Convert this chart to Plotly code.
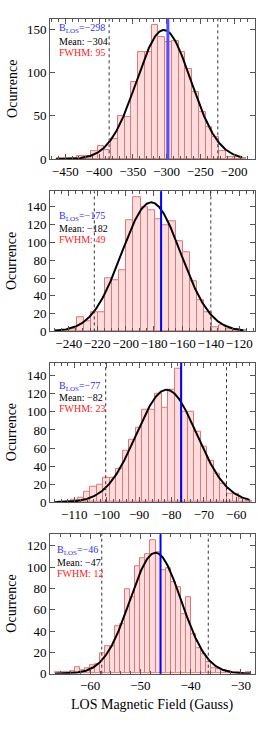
import numpy as np
import plotly.graph_objects as go

# ---------------- data ----------------
# histogram counts (bin start = left edge of first bin, bin width)
p1_bin_start, p1_bin_width = -462, 10
p1_counts = [1, 1, 1, 4, 4, 9, 15, 11, 23, 50, 49, 89, 124, 124, 155, 141, 135, 136,
             123, 104, 77, 54, 37, 25, 9, 3, 3, 1]

p2_bin_start, p2_bin_width = -249.5, 5
p2_counts = [1, 1, 2, 16, 11, 21, 22, 60, 58, 69, 125, 151, 140, 136, 126, 119, 124,
             101, 89, 56, 35, 21, 5, 7, 3, 2, 1]

p3_bin_start, p3_bin_width = -115, 2
p3_counts = [1, 1, 3, 5, 12, 17, 19, 27, 27, 37, 57, 69, 83, 102, 102, 120, 105, 125,
             148, 100, 100, 78, 61, 46, 31, 21, 9, 9, 4, 2]

p4_bin_start, p4_bin_width = -67, 1
p4_counts = [1, 1, 1, 2, 6, 3, 5, 8, 9, 19, 26, 26, 45, 46, 79, 72, 101, 108, 112, 125,
             114, 97, 99, 86, 81, 56, 72, 37, 24, 18, 11, 5, 4, 3, 2, 1, 1, 0, 1]

# Gaussian fit parameters (amplitude, centre, sigma) and curve extent
gauss_amp = [149, 145, 124.5, 113.5]
gauss_center = [-304, -182, -81.5, -47]
gauss_sigma = [40.3, 20.8, 9.3, 5.1]
curve_lo = [-464, -250, -116, -67]
curve_hi = [-188, -117, -56, -28]

# reference lines
b_los = [-298, -175, -77, -46]
dash_lo = [-385, -222, -100.3, -57.7]
dash_hi = [-224, -140, -63.0, -36.5]

# labels
b_text = ["−298", "−175", "−77", "−46"]
mean_text = ["−304", "−182", "−82", "−47"]
fwhm_text = ["95", "49", "23", "12"]

# axes
x_ranges = [[-472.6, -168.9], [-253.2, -108.9], [-117.5, -54.2], [-68.0, -27.2]]
y_ranges = [[0, 161.5], [0, 157.5], [0, 154.4], [0, 130.9]]
x_dtick = [50, 20, 10, 10]
x_minor = [10, 5, 2, 2]
y_dtick = [50, 20, 20, 20]

# ---------------- layout geometry ----------------
W, H = 277, 745
x_dom = [50 / W, 255 / W]
panel_px = [(19.3, 161), (193.3, 335), (366.7, 507.7), (540, 681)]
text_y_px = [(29, 41.7, 53.3), (219.3, 230.7, 241.7), (390.7, 402.3, 413.3), (556, 568.3, 580)]
text_x_px = [57, 57, 56.7, 55]

FONT = "Liberation Serif, Times New Roman, serif"
AXC = "#555555"

fig = go.Figure()
hist = [(p1_bin_start, p1_bin_width, p1_counts), (p2_bin_start, p2_bin_width, p2_counts),
        (p3_bin_start, p3_bin_width, p3_counts), (p4_bin_start, p4_bin_width, p4_counts)]

shapes = []
annotations = []
for i in range(4):
    xa = "x" if i == 0 else f"x{i+1}"
    ya = "y" if i == 0 else f"y{i+1}"
    start, width, counts = hist[i]
    centers = [start + width * (k + 0.5) for k in range(len(counts))]
    fig.add_trace(go.Bar(x=centers, y=counts, width=width, xaxis=xa, yaxis=ya,
                         marker=dict(color="#fcdcdc", line=dict(color="#e07878", width=1)),
                         showlegend=False))
    xs = np.linspace(curve_lo[i], curve_hi[i], 300)
    ys = gauss_amp[i] * np.exp(-(xs - gauss_center[i]) ** 2 / (2 * gauss_sigma[i] ** 2))
    fig.add_trace(go.Scatter(x=xs, y=ys, mode="lines", xaxis=xa, yaxis=ya,
                             line=dict(color="black", width=2), showlegend=False))

    for xv in (dash_lo[i], dash_hi[i]):
        shapes.append(dict(type="line", xref=xa, yref=f"{ya} domain", x0=xv, x1=xv, y0=0, y1=1,
                           line=dict(color="#333333", width=1, dash="3px,3px")))
    shapes.append(dict(type="line", xref=xa, yref=f"{ya} domain", x0=b_los[i], x1=b_los[i],
                       y0=0, y1=1,
                       line=dict(color="#5050ff" if i == 0 else "#0000ff", width=3 if i == 0 else 2)))

    top, bot = panel_px[i]
    dom = [1 - bot / H, 1 - top / H]
    axname = "xaxis" if i == 0 else f"xaxis{i+1}"
    ayname = "yaxis" if i == 0 else f"yaxis{i+1}"
    fig.layout[axname] = dict(domain=x_dom, anchor=ya, range=x_ranges[i], dtick=x_dtick[i],
                              tick0=0, ticks="inside", ticklen=5, tickcolor=AXC, tickangle=0,
                              showline=True, linecolor=AXC, linewidth=1, mirror="allticks",
                              showgrid=False, zeroline=False,
                              minor=dict(dtick=x_minor[i], ticks="inside", ticklen=3,
                                         tickcolor=AXC, showgrid=False),
                              tickfont=dict(family=FONT, size=13, color="black"))
    fig.layout[ayname] = dict(domain=dom, anchor=xa, range=y_ranges[i], dtick=y_dtick[i],
                              tick0=0, ticks="inside", ticklen=5, tickcolor=AXC,
                              showline=True, linecolor=AXC, linewidth=1, mirror="allticks",
                              showgrid=False, zeroline=False,
                              tickfont=dict(family=FONT, size=13, color="black"))

    annotations.append(dict(text="Ocurrence", xref="paper", yref="paper", x=11.7 / W,
                            y=(dom[0] + dom[1]) / 2, textangle=-90, showarrow=False,
                            xanchor="center", yanchor="middle",
                            font=dict(family=FONT, size=14, color="black")))
    tx = text_x_px[i] / W
    yb, ym, yf = text_y_px[i]
    annotations.append(dict(text=f"B<sub>LOS</sub>={b_text[i]}", xref="paper", yref="paper",
                            x=tx, y=1 - yb / H, xanchor="left", yanchor="middle", showarrow=False,
                            font=dict(family=FONT, size=10, color="#3030ff")))
    annotations.append(dict(text=f"Mean: {mean_text[i]}", xref="paper", yref="paper",
                            x=tx, y=1 - ym / H, xanchor="left", yanchor="middle", showarrow=False,
                            font=dict(family=FONT, size=10, color="black")))
    annotations.append(dict(text=f"FWHM: {fwhm_text[i]}", xref="paper", yref="paper",
                            x=tx, y=1 - yf / H, xanchor="left", yanchor="middle", showarrow=False,
                            font=dict(family=FONT, size=10, color="#ff2020")))

annotations.append(dict(text="LOS Magnetic Field (Gauss)", xref="paper", yref="paper",
                        x=151.7 / W, y=1 - 712.7 / H, xanchor="center", yanchor="middle",
                        showarrow=False, font=dict(family=FONT, size=14, color="black")))

fig.update_layout(width=W, height=H, margin=dict(l=0, r=0, t=0, b=0),
                  paper_bgcolor="white", plot_bgcolor="white", bargap=0,
                  shapes=shapes, annotations=annotations,
                  font=dict(family=FONT, color="black"))
fig.write_html("out.html")
